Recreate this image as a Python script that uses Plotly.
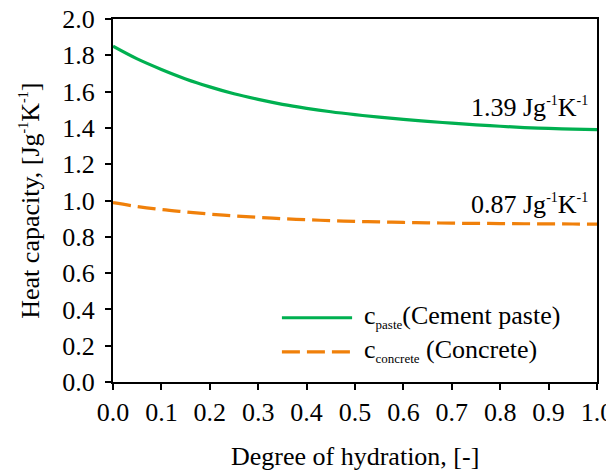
import plotly.graph_objects as go

# Data
alpha = [0.0, 0.05, 0.10, 0.15, 0.20, 0.25, 0.30, 0.35, 0.40, 0.45, 0.50,
         0.55, 0.60, 0.65, 0.70, 0.75, 0.80, 0.85, 0.90, 0.95, 1.0]
c_paste = [1.850, 1.780, 1.722, 1.670, 1.626, 1.588, 1.557, 1.530, 1.508, 1.489, 1.473,
           1.459, 1.447, 1.436, 1.426, 1.417, 1.409, 1.402, 1.397, 1.393, 1.390]
c_concrete = [0.988, 0.967, 0.950, 0.937, 0.925, 0.915, 0.907, 0.900, 0.894, 0.889, 0.885,
              0.882, 0.879, 0.877, 0.875, 0.874, 0.873, 0.872, 0.871, 0.8705, 0.870]
x_ticks = [0.0, 0.1, 0.2, 0.3, 0.4, 0.5, 0.6, 0.7, 0.8, 0.9, 1.0]
y_ticks = [0.0, 0.2, 0.4, 0.6, 0.8, 1.0, 1.2, 1.4, 1.6, 1.8, 2.0]

SUP = "<sup><span style='font-size:14px'>-1</span></sup>"
end_labels = ["1.39 Jg" + SUP + "K" + SUP, "0.87 Jg" + SUP + "K" + SUP]
legend_labels = ["c<sub><span style='font-size:13px'>paste</span></sub>(Cement paste)",
                 "c<sub><span style='font-size:13px'>concrete</span></sub> (Concrete)"]
y_title = "Heat capacity, [Jg" + SUP + "K" + SUP + "]"
x_title = "Degree of hydration, [-]"

GREEN = "rgb(0,176,80)"
ORANGE = "rgb(240,128,10)"
FONT = "Liberation Serif, DejaVu Serif, serif"
FS = 26

fig = go.Figure()
fig.add_trace(go.Scatter(x=alpha, y=c_paste, mode="lines",
                         line=dict(color=GREEN, width=3.2, shape="spline"),
                         showlegend=False))
fig.add_trace(go.Scatter(x=alpha, y=c_concrete, mode="lines",
                         line=dict(color=ORANGE, width=3.2, dash="18px,7px", shape="spline"),
                         showlegend=False))

txt = dict(family=FONT, size=FS, color="black")

# End-value labels
fig.add_annotation(x=0.985, y=1.515, xref="x", yref="y", text=end_labels[0],
                   showarrow=False, xanchor="right", yanchor="middle", font=txt)
fig.add_annotation(x=0.985, y=0.98, xref="x", yref="y", text=end_labels[1],
                   showarrow=False, xanchor="right", yanchor="middle", font=txt)

# Manual legend
fig.add_shape(type="line", xref="paper", yref="paper", x0=0.349, x1=0.494, y0=0.177, y1=0.177,
              line=dict(color=GREEN, width=3.2))
fig.add_shape(type="line", xref="paper", yref="paper", x0=0.349, x1=0.494, y0=0.083, y1=0.083,
              line=dict(color=ORANGE, width=3.2, dash="18px,7px"))
fig.add_annotation(x=0.515, y=0.18, xref="paper", yref="paper", text=legend_labels[0],
                   showarrow=False, xanchor="left", yanchor="middle", font=txt)
fig.add_annotation(x=0.515, y=0.086, xref="paper", yref="paper", text=legend_labels[1],
                   showarrow=False, xanchor="left", yanchor="middle", font=txt)

# Axis titles
fig.add_annotation(x=0.5, y=-0.205, xref="paper", yref="paper", text=x_title,
                   showarrow=False, xanchor="center", yanchor="middle", font=txt)
fig.add_annotation(x=-0.171, y=0.5, xref="paper", yref="paper", text=y_title,
                   showarrow=False, textangle=-90, xanchor="center", yanchor="middle",
                   font=txt)

fig.update_layout(
    width=614, height=473,
    margin=dict(l=105, r=25, t=11, b=99, autoexpand=False),
    paper_bgcolor="white", plot_bgcolor="white",
    font=txt,
    showlegend=False,
)
common = dict(showgrid=False, zeroline=False, showline=True, linecolor="black",
              linewidth=2, mirror=True, ticks="outside", ticklen=6, tickwidth=1.5,
              tickcolor="black", tickfont=txt, ticklabeloverflow="allow",
              automargin=False)
fig.update_xaxes(range=[0, 1], tickvals=x_ticks, ticktext=[f"{v:.1f}" for v in x_ticks],
                 **common)
fig.update_yaxes(range=[0, 2], tickvals=y_ticks, ticktext=[f"{v:.1f}" for v in y_ticks],
                 ticklabelstandoff=5, **common)

fig.write_html("out.html")
